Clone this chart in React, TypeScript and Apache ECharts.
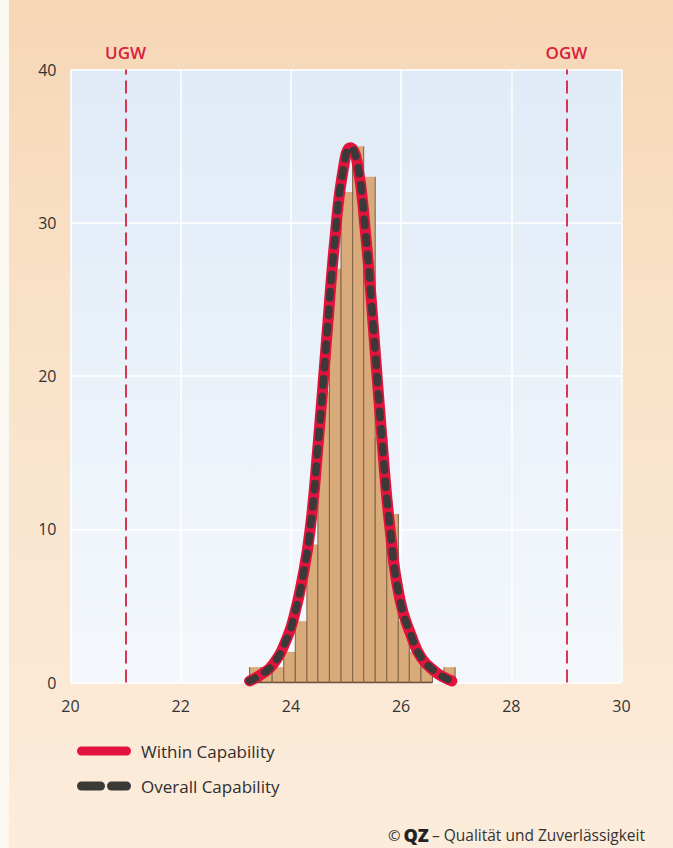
import React, { useEffect, useRef } from 'react';
import * as echarts from 'echarts';

// ---- data ----
const binEdges = [23.25, 23.46, 23.66, 23.87, 24.08, 24.29, 24.49, 24.7, 24.91, 25.12, 25.32, 25.53, 25.74, 25.95, 26.15, 26.36, 26.57, 26.78, 26.98];
const binCounts = [1, 1, 1, 2, 4, 9, 19, 27, 32, 35, 33, 16, 11, 4, 2, 1, 0, 1];

const curveX = [23.25, 23.45, 23.68, 23.93, 24.07, 24.2, 24.35, 24.5, 24.65, 24.8, 24.95, 25.08, 25.2, 25.35, 25.5, 25.65, 25.8, 25.98, 26.19, 26.37, 26.62, 26.8, 26.92];
const withinY = [0.1, 0.5, 1.2, 2.9, 4.5, 6.6, 10, 15.8, 22.5, 29, 33.5, 34.9, 34, 29.5, 23, 16, 10, 5.4, 3.0, 1.6, 0.7, 0.3, 0.1];
const overallY = [0.1, 0.5, 1.2, 2.9, 4.5, 6.6, 10, 15.8, 22.5, 29, 33.5, 34.9, 34, 29.5, 23, 16, 10, 5.4, 3.0, 1.6, 0.7, 0.3, 0.1];

const specLimits = [21, 29];
const specLabels = ['UGW', 'OGW'];

const xMin = 20, xMax = 30, xStep = 2;
const yMin = 0, yMax = 40, yStep = 10;

const legendNames = ['Within Capability', 'Overall Capability'];
const sourceBrand = 'QZ';
const sourceText = 'Qualität und Zuverlässigkeit';

const FONT = "'Open Sans', 'Noto Sans', sans-serif";
const RED = '#e2133d';
const DARK = '#3c3939';

export default function App() {
  const ref = useRef<HTMLDivElement>(null);

  useEffect(() => {
    if (!ref.current) return;
    const chart = echarts.init(ref.current, undefined, { renderer: 'svg' });

    const histData = binCounts.map((c, i) => [binEdges[i], binEdges[i + 1], c]);

    const option: any = {
      animation: false,
      grid: {
        left: 70.5,
        top: 69.5,
        right: 673 - 621.5,
        bottom: 848 - 682.5,
        show: true,
        borderWidth: 0,
        backgroundColor: new echarts.graphic.LinearGradient(0, 0, 0, 1, [
          { offset: 0, color: '#e0ebf7' },
          { offset: 1, color: '#f4f8fc' },
        ]),
      },
      xAxis: {
        type: 'value',
        min: xMin,
        max: xMax,
        interval: xStep,
        axisLine: { show: false },
        axisTick: { show: false },
        axisLabel: { color: '#333', fontSize: 16, fontFamily: FONT, margin: 15 },
        splitLine: { show: true, lineStyle: { color: '#ffffff', width: 1.5 } },
      },
      yAxis: {
        type: 'value',
        min: yMin,
        max: yMax,
        interval: yStep,
        axisLine: { show: false },
        axisTick: { show: false },
        axisLabel: { color: '#333', fontSize: 16, fontFamily: FONT, margin: 14 },
        splitLine: { show: true, lineStyle: { color: '#ffffff', width: 1.5 } },
      },
      series: [
        {
          type: 'custom',
          name: 'Histogram',
          z: 2,
          encode: { x: [0, 1], y: 2 },
          data: histData,
          renderItem: (params: any, api: any) => {
            const x0 = api.value(0);
            const x1 = api.value(1);
            const c = api.value(2);
            if (!c) return { type: 'group', children: [] };
            const p0 = api.coord([x0, c]);
            const p1 = api.coord([x1, 0]);
            const edge = { stroke: '#86674a', lineWidth: 1.1 };
            return {
              type: 'group',
              children: [
                { type: 'rect', shape: { x: p0[0], y: p0[1], width: p1[0] - p0[0], height: p1[1] - p0[1] }, style: { fill: '#d9aa7a' } },
                { type: 'line', shape: { x1: p0[0], y1: p0[1], x2: p0[0], y2: p1[1] }, style: edge },
                { type: 'line', shape: { x1: p1[0], y1: p0[1], x2: p1[0], y2: p1[1] }, style: edge },
                { type: 'line', shape: { x1: p0[0], y1: p1[1], x2: p1[0], y2: p1[1] }, style: { stroke: '#6e5035', lineWidth: 1.6 } },
              ],
            };
          },
        },
        {
          type: 'line',
          name: legendNames[0],
          z: 3,
          smooth: true,
          showSymbol: false,
          symbol: 'none',
          data: curveX.map((x, i) => [x, withinY[i]]),
          lineStyle: { color: RED, width: 11, cap: 'round', join: 'round' },
          markLine: {
            silent: true,
            symbol: ['none', 'none'],
            lineStyle: { color: '#d8203f', width: 1.8, type: [13, 6] },
            label: {
              show: true,
              position: 'end',
              distance: 9,
              color: '#d8203f',
              fontSize: 17,
              fontWeight: 600,
              fontFamily: FONT,
              formatter: (p: any) => p.name,
            },
            data: specLimits.map((v, i) => ({ xAxis: v, name: specLabels[i] })),
          },
        },
        {
          type: 'line',
          name: legendNames[1],
          z: 4,
          smooth: true,
          showSymbol: false,
          symbol: 'none',
          data: curveX.map((x, i) => [x, overallY[i]]),
          lineStyle: { color: DARK, width: 7.5, type: [6.5, 11], cap: 'round', join: 'round' },
        },
      ],
      graphic: [
        { type: 'line', shape: { x1: 81.5, y1: 751, x2: 126.5, y2: 751 }, style: { stroke: RED, lineWidth: 9, lineCap: 'round' } },
        { type: 'text', x: 141, y: 751, style: { text: legendNames[0], fill: '#2e2e2e', fontSize: 17, fontFamily: FONT, verticalAlign: 'middle', align: 'left' } },
        { type: 'line', shape: { x1: 81.5, y1: 786, x2: 100.5, y2: 786 }, style: { stroke: DARK, lineWidth: 9, lineCap: 'round' } },
        { type: 'line', shape: { x1: 111.5, y1: 786, x2: 126.5, y2: 786 }, style: { stroke: DARK, lineWidth: 9, lineCap: 'round' } },
        { type: 'text', x: 141, y: 786, style: { text: legendNames[1], fill: '#2e2e2e', fontSize: 17, fontFamily: FONT, verticalAlign: 'middle', align: 'left' } },
        {
          type: 'text',
          x: 645,
          y: 835,
          style: {
            text: '{c|©} {b|' + sourceBrand + '} {n|– ' + sourceText + '}',
            align: 'right',
            verticalAlign: 'middle',
            fontFamily: FONT,
            rich: {
              c: { fontSize: 15, fill: '#333', fontFamily: FONT },
              b: { fontSize: 18, fontWeight: 800, fill: '#222', fontFamily: FONT },
              n: { fontSize: 15.5, fill: '#333', fontFamily: FONT },
            },
          },
        },
      ],
    };

    chart.setOption(option);
    return () => chart.dispose();
  }, []);

  return (
    <div
      style={{
        position: 'fixed',
        left: 0,
        top: 0,
        width: 673,
        height: 848,
        overflow: 'hidden',
        background: 'linear-gradient(180deg, #f6d7b6 0%, #f9e2c9 40%, #fcecdb 100%)',
      }}
    >
      <div style={{ position: 'absolute', left: 0, top: 0, width: 9, height: 848, background: '#fbf7f1' }} />
      <div ref={ref} style={{ position: 'absolute', left: 0, top: 0, width: 673, height: 848 }} />
    </div>
  );
}
